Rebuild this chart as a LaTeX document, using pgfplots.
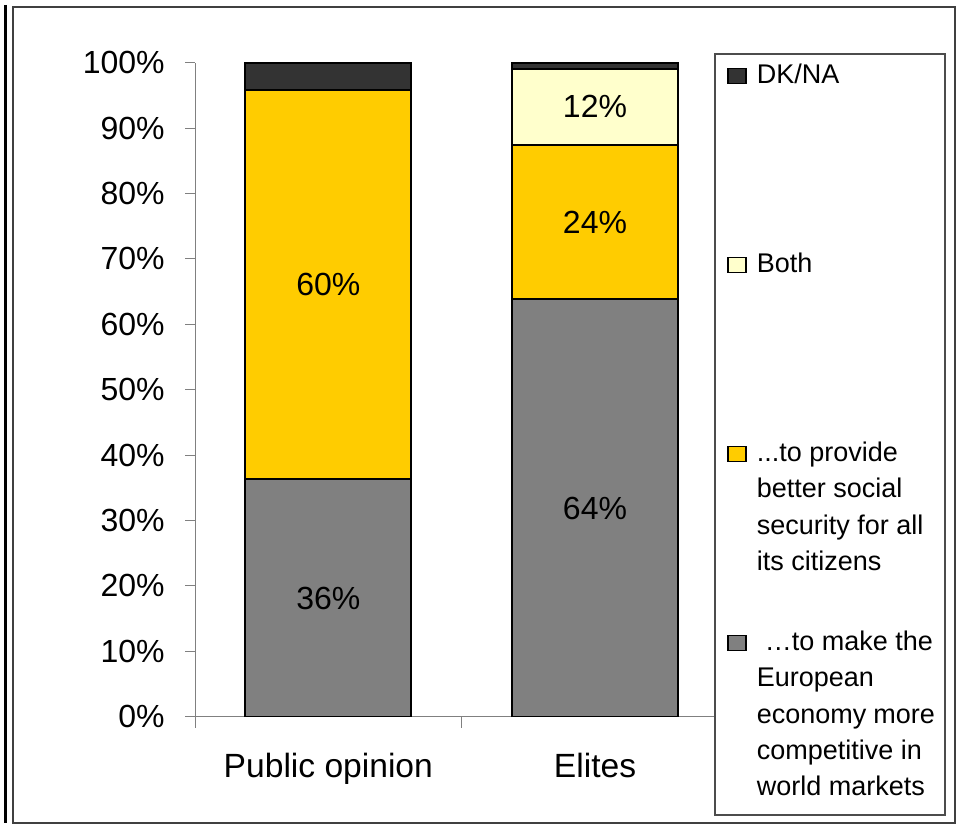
\documentclass[border=0pt]{standalone}
\usepackage{fontspec}
\setmainfont{Liberation Sans}
\usepackage{pgfplots}
\pgfplotsset{compat=1.18}
\definecolor{cgray}{HTML}{808080}
\definecolor{cyel}{HTML}{FFCC00}
\definecolor{cboth}{HTML}{FFFFCC}
\definecolor{cdk}{HTML}{333333}
\definecolor{axgray}{HTML}{808080}
\newcommand{\lent}[2]{\raisebox{0pt}[#1][0pt]{\parbox[t]{89pt}{\raggedright #2}}}
\begin{document}
\begin{tikzpicture}
\path (0,0) rectangle (480pt,412.5pt);
\draw[line width=1.5pt] (2.75pt,410pt) -- (2.75pt,1pt);
\draw[black!75, line width=0.8pt] (6.35pt,1pt) rectangle (477.5pt,409pt);
\begin{axis}[
  at={(97.5pt,54.15pt)}, anchor=south west,
  scale only axis, width=266.67pt, height=327pt,
  ybar stacked, bar width=83pt,
  xmin=-0.5, xmax=1.5, ymin=0, ymax=100,
  axis lines*=left,
  axis line style={draw=axgray, line width=0.5pt},
  xtick={0,1}, xticklabels={Public opinion, Elites},
  minor xtick={-0.5,0.5,1.5},
  ytick={0,10,...,100},
  yticklabels={0\%,10\%,20\%,30\%,40\%,50\%,60\%,70\%,80\%,90\%,100\%},
  tick align=outside, major tick length=5pt, minor tick length=5.5pt,
  tick style={draw=axgray, line width=0.5pt},
  major x tick style={draw=none},
  yticklabel style={font=\fontsize{16}{19}\selectfont, inner sep=0pt, anchor=east, xshift=-10pt},
  xticklabel style={font=\fontsize{16.8}{19}\selectfont, inner sep=0pt, anchor=north, yshift=-13pt},
]
\addplot[fill=cgray, draw=black, line width=1pt] coordinates {(0,36.3) (1,63.8)};
\addplot[fill=cyel, draw=black, line width=1pt] coordinates {(0,59.6) (1,23.6)};
\addplot[fill=cboth, draw=black, line width=1pt] coordinates {(0,0) (1,11.7)};
\addplot[fill=cdk, draw=black, line width=1pt] coordinates {(0,4.1) (1,0.9)};
\end{axis}
\draw[fill=white, draw=black!70, line width=0.6pt] (357.5pt,385.5pt) rectangle (472.5pt,5pt);
\begin{axis}[
  at={(97.5pt,54.15pt)}, anchor=south west,
  scale only axis, width=266.67pt, height=327pt,
  xmin=-0.5, xmax=1.5, ymin=0, ymax=100,
  hide axis,
  legend image code/.code={\draw[#1, draw=black, line width=0.75pt] (0pt,0pt) rectangle (9pt,7.5pt);},
  legend style={at={(0.975,1.0133)}, anchor=north west, draw=none, fill=none,
    inner xsep=6pt, inner ysep=0pt, row sep=0pt, column sep=5pt,
    cells={anchor=base west},
    nodes={inner sep=0pt, font=\fontsize{13.5}{18.2}\selectfont}},
]
\addplot[draw=none, mark=none, nodes near coords, point meta=explicit symbolic,
  nodes near coords style={font=\fontsize{16}{19}\selectfont, anchor=center, inner sep=0pt},
  forget plot]
  coordinates {(0,18.15)[36\%] (0,66.1)[60\%] (1,31.9)[64\%] (1,75.6)[24\%] (1,93.3)[12\%]};
\addlegendimage{fill=cdk}
\addlegendentry{\lent{14.5pt}{DK/NA}}
\addlegendimage{fill=cboth}
\addlegendentry{\lent{93pt}{Both}}
\addlegendimage{fill=cyel}
\addlegendentry{\lent{93pt}{...to provide\\better social\\security for all\\its citizens}}
\addlegendimage{fill=cgray}
\addlegendentry{\lent{93pt}{\hspace*{4pt}\ldots to make the\\European\\economy more\\competitive in\\world markets}}
\end{axis}
\end{tikzpicture}
\end{document}
